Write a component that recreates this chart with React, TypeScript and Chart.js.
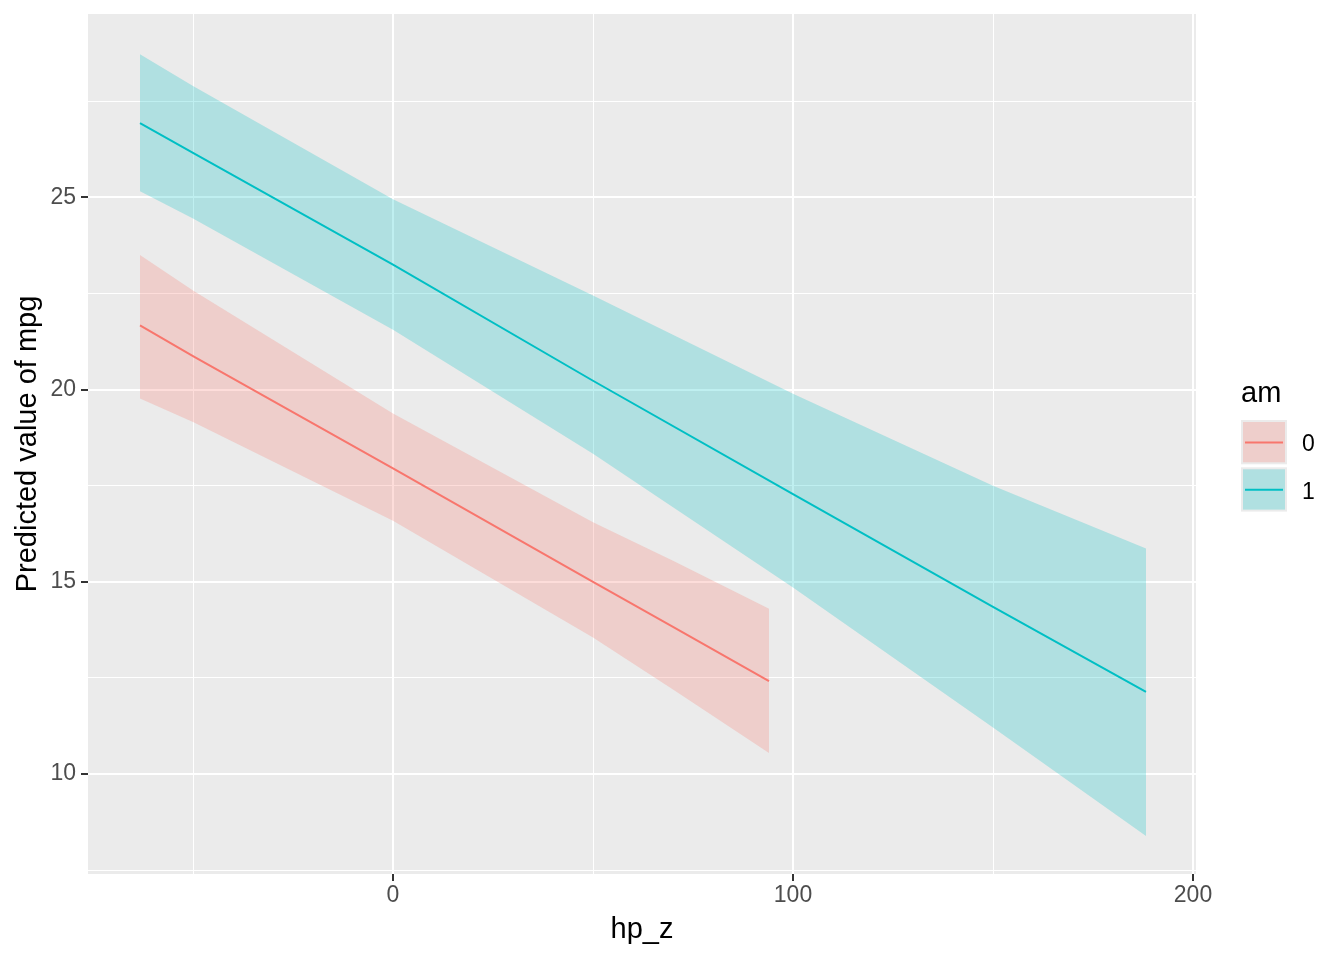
import { useEffect, useRef } from "react";
import { Chart, registerables } from "chart.js";

Chart.register(...registerables);

// am = 0
const redX = [-63.25, -50, 0, 50, 70, 94];
const redUpper = [23.5, 22.58, 19.38, 16.55, 15.55, 14.3];
const redLower = [19.77, 19.16, 16.59, 13.55, 12.2, 10.55];
const redLine = [21.67, 20.87, 17.95, 15.0, 13.83, 12.42];

// am = 1
const blueX = [-63.25, -50, 0, 50, 100, 150, 188.25];
const blueUpper = [28.72, 27.9, 24.95, 22.45, 19.89, 17.5, 15.87];
const blueLower = [25.16, 24.45, 21.56, 18.33, 14.85, 11.21, 8.39];
const blueLine = [26.93, 26.16, 23.25, 20.23, 17.28, 14.35, 12.14];

const xTicks = [-50, 0, 50, 100, 150, 200];
const xMajor = [0, 100, 200];
const yTicks = [7.5, 10, 12.5, 15, 17.5, 20, 22.5, 25, 27.5];
const yMajor = [10, 15, 20, 25];

const legendTitle = "am";
const legendLabels = ["0", "1"];

const RED = "#F8766D";
const BLUE = "#00BFC4";
const RED_FILL = "rgba(248, 118, 109, 0.25)";
const BLUE_FILL = "rgba(0, 191, 196, 0.25)";
const FONT = '"Liberation Sans", Arial, sans-serif';

const toPoints = (xs: number[], ys: number[]) => xs.map((x, i) => ({ x, y: ys[i] }));

const panelBg = {
  id: "panelBg",
  beforeDraw(chart: Chart) {
    const { ctx, chartArea: a } = chart;
    ctx.save();
    ctx.fillStyle = "#EBEBEB";
    ctx.fillRect(a.left, a.top, a.right - a.left, a.bottom - a.top);
    ctx.restore();
  },
};

const amLegend = {
  id: "amLegend",
  afterDraw(chart: Chart) {
    const ctx = chart.ctx;
    const left = 1241;
    ctx.save();
    ctx.fillStyle = "#000";
    ctx.font = `29px ${FONT}`;
    ctx.textBaseline = "alphabetic";
    ctx.textAlign = "left";
    ctx.fillText(legendTitle, left, 402);

    const colors = [RED, BLUE];
    const fills = [RED_FILL, BLUE_FILL];
    legendLabels.forEach((label, i) => {
      const top = 420 + i * 47.3;
      ctx.fillStyle = "#EBEBEB";
      ctx.fillRect(left, top, 46, 44.3);
      ctx.fillStyle = fills[i];
      ctx.fillRect(left + 2, top + 2, 42, 40.3);
      ctx.strokeStyle = colors[i];
      ctx.lineWidth = 2;
      ctx.beginPath();
      ctx.moveTo(left + 4, top + 22.5);
      ctx.lineTo(left + 42, top + 22.5);
      ctx.stroke();
      ctx.fillStyle = "#000";
      ctx.font = `23px ${FONT}`;
      ctx.textBaseline = "middle";
      ctx.fillText(label, left + 61, top + 25);
    });
    ctx.restore();
  },
};

const gridColor = "#FFFFFF";

export default function App() {
  const canvasRef = useRef<HTMLCanvasElement | null>(null);

  useEffect(() => {
    if (!canvasRef.current) return;
    const chart = new Chart(canvasRef.current, {
      type: "line",
      data: {
        datasets: [
          {
            label: "0 lower",
            data: toPoints(redX, redLower),
            borderWidth: 0,
            pointRadius: 0,
            fill: false,
            order: 2,
          },
          {
            label: "0 upper",
            data: toPoints(redX, redUpper),
            borderWidth: 0,
            pointRadius: 0,
            backgroundColor: RED_FILL,
            fill: "-1",
            order: 2,
          },
          {
            label: "1 lower",
            data: toPoints(blueX, blueLower),
            borderWidth: 0,
            pointRadius: 0,
            fill: false,
            order: 1,
          },
          {
            label: "1 upper",
            data: toPoints(blueX, blueUpper),
            borderWidth: 0,
            pointRadius: 0,
            backgroundColor: BLUE_FILL,
            fill: "-1",
            order: 1,
          },
          {
            label: "0",
            data: toPoints(redX, redLine),
            borderColor: RED,
            borderWidth: 2,
            pointRadius: 0,
            fill: false,
            order: 0,
          },
          {
            label: "1",
            data: toPoints(blueX, blueLine),
            borderColor: BLUE,
            borderWidth: 2,
            pointRadius: 0,
            fill: false,
            order: 0,
          },
        ],
      },
      plugins: [panelBg, amLegend],
      options: {
        responsive: false,
        animation: false,
        layout: { padding: { top: 14, right: 148, left: 0, bottom: 0 } },
        plugins: {
          legend: { display: false },
          tooltip: { enabled: false },
        },
        scales: {
          x: {
            type: "linear",
            min: -76.25,
            max: 200.75,
            afterBuildTicks: (scale) => {
              scale.ticks = xTicks.map((value) => ({ value }));
            },
            afterFit: (scale) => {
              scale.height = 86;
              scale.paddingLeft = 0;
              scale.paddingRight = 0;
            },
            border: { display: false },
            grid: {
              color: gridColor,
              lineWidth: (ctx) => (xMajor.includes(ctx.tick?.value) ? 2 : 1),
              tickColor: (ctx) => (xMajor.includes(ctx.tick?.value) ? "#333333" : "rgba(0,0,0,0)"),
              tickWidth: 2,
              tickLength: 7,
            },
            ticks: {
              autoSkip: false,
              maxRotation: 0,
              padding: 1,
              color: "#4D4D4D",
              font: { family: FONT, size: 23 },
              callback: (value) => (xMajor.includes(Number(value)) ? String(value) : ""),
            },
            title: {
              display: true,
              text: "hp_z",
              color: "#000",
              font: { family: FONT, size: 29 },
              padding: { top: 0, bottom: 13 },
            },
          },
          y: {
            type: "linear",
            min: 7.4,
            max: 29.77,
            afterBuildTicks: (scale) => {
              scale.ticks = yTicks.map((value) => ({ value }));
            },
            afterFit: (scale) => {
              scale.width = 88;
              scale.paddingTop = 0;
              scale.paddingBottom = 0;
            },
            border: { display: false },
            grid: {
              color: gridColor,
              lineWidth: (ctx) => (yMajor.includes(ctx.tick?.value) ? 2 : 1),
              tickColor: (ctx) => (yMajor.includes(ctx.tick?.value) ? "#333333" : "rgba(0,0,0,0)"),
              tickWidth: 2,
              tickLength: 7,
            },
            ticks: {
              autoSkip: false,
              padding: 5,
              color: "#4D4D4D",
              font: { family: FONT, size: 23 },
              callback: (value) => (yMajor.includes(Number(value)) ? String(value) : ""),
            },
            title: {
              display: true,
              text: "Predicted value of mpg",
              color: "#000",
              font: { family: FONT, size: 29 },
              padding: { top: 11, bottom: 0 },
            },
          },
        },
      },
    });

    return () => {
      chart.destroy();
    };
  }, []);

  return (
    <div style={{ position: "fixed", left: 0, top: 0, width: 1344, height: 960, background: "#FFFFFF" }}>
      <canvas ref={canvasRef} width={1344} height={960} style={{ display: "block" }} />
    </div>
  );
}
